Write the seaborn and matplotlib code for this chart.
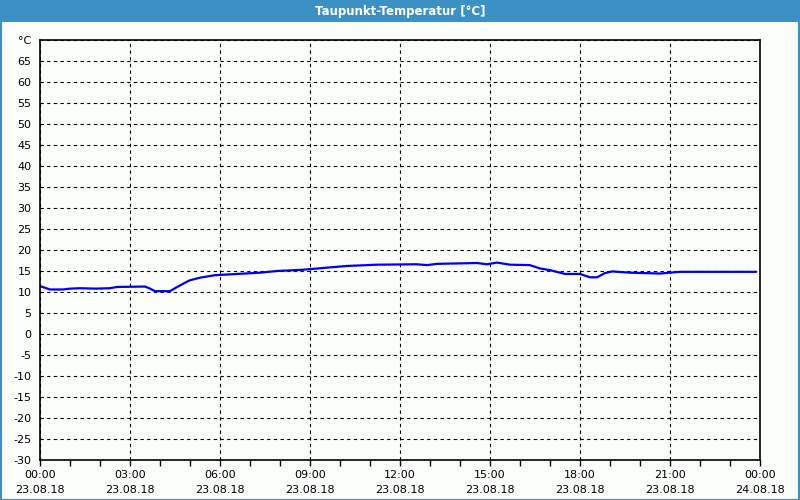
import numpy as np
import pandas as pd
import matplotlib
matplotlib.use("Agg")
import matplotlib.pyplot as plt
import seaborn as sns
from matplotlib.patches import Rectangle

# Dew point readings (hours since 23.08.18 00:00, °C)
hours = [0.0, 0.17, 0.33, 0.77, 1.0, 1.33, 1.83, 2.33, 2.57, 3.5, 3.67, 3.83,
         4.33, 4.6, 4.83, 5.0, 5.33, 5.83, 6.33, 7.33, 7.9, 8.77, 9.57, 10.23,
         11.23, 12.57, 12.9, 13.23, 14.57, 14.9, 15.23, 15.67, 16.33, 16.67,
         17.0, 17.5, 18.0, 18.33, 18.57, 18.83, 19.07, 19.67, 20.67, 21.33, 23.87]
dewpoint = [11.4, 11.0, 10.6, 10.6, 10.8, 10.9, 10.8, 10.9, 11.2, 11.3, 10.8, 10.2,
            10.2, 11.3, 12.2, 12.8, 13.4, 14.0, 14.2, 14.6, 15.0, 15.3, 15.8, 16.2,
            16.5, 16.6, 16.4, 16.7, 16.9, 16.6, 17.0, 16.5, 16.4, 15.6,
            15.2, 14.3, 14.3, 13.5, 13.5, 14.5, 14.9, 14.6, 14.4, 14.8, 14.8]

x_ticks = [0, 3, 6, 9, 12, 15, 18, 21, 24]
x_labels = ["00:00\n23.08.18", "03:00\n23.08.18", "06:00\n23.08.18",
            "09:00\n23.08.18", "12:00\n23.08.18", "15:00\n23.08.18",
            "18:00\n23.08.18", "21:00\n23.08.18", "00:00\n24.08.18"]
y_ticks = list(range(-30, 75, 5))
y_labels = [str(v) for v in range(-30, 70, 5)] + ["°C"]

df = pd.DataFrame({"hour": hours, "dewpoint": dewpoint})

sns.set_style("ticks")
plt.rcParams["font.family"] = ["DejaVu Sans"]

fig = plt.figure(figsize=(8, 5), dpi=100, facecolor="#fbfdfb")
ax = fig.add_axes([0.05, 0.08, 0.90, 0.84])
ax.set_facecolor("#fbfdfb")

# window title bar and border
fig.patches.append(Rectangle((0, 0.956), 1, 0.044, transform=fig.transFigure,
                             facecolor="#3c91c4", edgecolor="none"))
fig.patches.append(Rectangle((0.001, 0.001), 0.998, 0.998, transform=fig.transFigure,
                             facecolor="none", edgecolor="#3c91c4", linewidth=1.5))
fig.text(0.5, 0.978, "Taupunkt-Temperatur [°C]", ha="center", va="center",
         color="white", fontsize=8.5, fontweight="bold")

sns.lineplot(data=df, x="hour", y="dewpoint", ax=ax, color="#0000f0", linewidth=1.6)

ax.set_xlim(0, 24)
ax.set_ylim(-30, 70)
ax.set_xticks(x_ticks)
ax.set_xticklabels(x_labels, fontsize=8, linespacing=1.6)
ax.set_xticks(range(0, 25), minor=True)
ax.set_yticks(y_ticks)
ax.set_yticklabels(y_labels, fontsize=8)
ax.tick_params(axis="x", which="both", length=4, width=1, color="black",
               labelcolor="black")
ax.tick_params(axis="y", length=0, pad=6, labelcolor="black")
ax.set_xlabel("")
ax.set_ylabel("")

ax.grid(True, which="major", color="black", linestyle=(0, (3, 3)), linewidth=0.8)
for s in ax.spines.values():
    s.set_visible(True)
    s.set_color("black")
    s.set_linewidth(1.2)

fig.savefig("out.png", dpi=100, facecolor=fig.get_facecolor())
